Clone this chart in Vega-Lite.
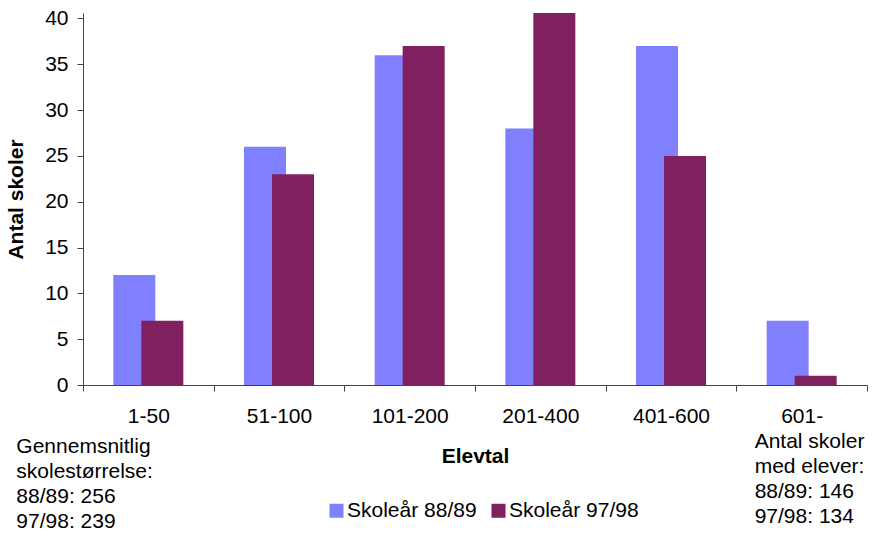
{
  "$schema": "https://vega.github.io/schema/vega-lite/v6.json",
  "width": 784,
  "height": 372,
  "autosize": {"type": "none"},
  "padding": {"left": 83, "top": 13, "right": 6, "bottom": 151},
  "background": "white",
  "config": {
    "view": {"stroke": null},
    "font": "Liberation Sans",
    "axis": {"labelColor": "black", "titleColor": "black", "domainColor": "#444", "tickColor": "#444", "grid": false}
  },
  "data": {
    "values": [
      {"elevtal": "1-50", "serie": "Skoleår 88/89", "antal": 12},
      {"elevtal": "51-100", "serie": "Skoleår 88/89", "antal": 26},
      {"elevtal": "101-200", "serie": "Skoleår 88/89", "antal": 36},
      {"elevtal": "201-400", "serie": "Skoleår 88/89", "antal": 28},
      {"elevtal": "401-600", "serie": "Skoleår 88/89", "antal": 37},
      {"elevtal": "601-", "serie": "Skoleår 88/89", "antal": 7},
      {"elevtal": "1-50", "serie": "Skoleår 97/98", "antal": 7},
      {"elevtal": "51-100", "serie": "Skoleår 97/98", "antal": 23},
      {"elevtal": "101-200", "serie": "Skoleår 97/98", "antal": 37},
      {"elevtal": "201-400", "serie": "Skoleår 97/98", "antal": 41},
      {"elevtal": "401-600", "serie": "Skoleår 97/98", "antal": 25},
      {"elevtal": "601-", "serie": "Skoleår 97/98", "antal": 1}
    ]
  },
  "encoding": {
    "y": {
      "field": "antal",
      "type": "quantitative",
      "scale": {"domain": [0, 40.6], "nice": false},
      "axis": {
        "title": "Antal skoler",
        "values": [0, 5, 10, 15, 20, 25, 30, 35, 40],
        "labelFontSize": 21,
        "titleFontSize": 21,
        "titleFontWeight": "bold",
        "tickSize": 6,
        "labelPadding": 9,
        "titlePadding": 18
      }
    },
    "color": {
      "field": "serie",
      "type": "nominal",
      "scale": {"domain": ["Skoleår 88/89", "Skoleår 97/98"], "range": ["#8080FF", "#802060"]},
      "legend": {
        "orient": "none",
        "legendX": 243,
        "legendY": 487,
        "direction": "horizontal",
        "title": null,
        "symbolType": "square",
        "symbolSize": 196,
        "symbolStrokeWidth": 0,
        "symbolOpacity": 1,
        "labelFontSize": 21,
        "labelColor": "black",
        "columnPadding": 11,
        "labelOffset": 0,
        "padding": 0
      }
    }
  },
  "layer": [
    {
      "transform": [{"filter": "datum.serie == 'Skoleår 88/89'"}],
      "mark": {"type": "bar", "width": 42, "xOffset": -14, "clip": true},
      "encoding": {
        "x": {
          "field": "elevtal",
          "type": "nominal",
          "scale": {"domain": ["1-50", "51-100", "101-200", "201-400", "401-600", "601-"], "paddingInner": 0, "paddingOuter": 0},
          "axis": {
            "title": "Elevtal",
            "titleFontSize": 21,
            "titleFontWeight": "bold",
            "titlePadding": 19,
            "labelFontSize": 21,
            "labelAngle": 0,
            "labelPadding": 14,
            "tickSize": 6,
            "tickBand": "extent",
            "labelOverlap": false
          }
        }
      }
    },
    {
      "transform": [{"filter": "datum.serie == 'Skoleår 97/98'"}],
      "mark": {"type": "bar", "width": 42, "xOffset": 14, "clip": true},
      "encoding": {
        "x": {
          "field": "elevtal",
          "type": "nominal",
          "scale": {"domain": ["1-50", "51-100", "101-200", "201-400", "401-600", "601-"], "paddingInner": 0, "paddingOuter": 0},
          "axis": {
            "orient": "bottom",
            "title": null,
            "domain": false,
            "ticks": false,
            "tickSize": 0,
            "labelAngle": 0,
            "labelFontSize": 21,
            "labelLineHeight": 25,
            "labelAlign": "left",
            "labelBaseline": "top",
            "labelOverlap": false,
            "labelLimit": 300,
            "labelOffset": {"condition": {"test": "datum.value == '1-50'", "value": -132}, "value": -47},
            "labelPadding": {"condition": {"test": "datum.value == '1-50'", "value": 50}, "value": 45},
            "labelExpr": "datum.value == '1-50' ? ['Gennemsnitlig', 'skolestørrelse:', '88/89: 256', '97/98: 239'] : datum.value == '601-' ? ['Antal skoler', 'med elever:', '88/89: 146', '97/98: 134'] : ''"
          }
        }
      }
    }
  ],
  "resolve": {"scale": {"x": "independent"}, "axis": {"x": "independent"}}
}
